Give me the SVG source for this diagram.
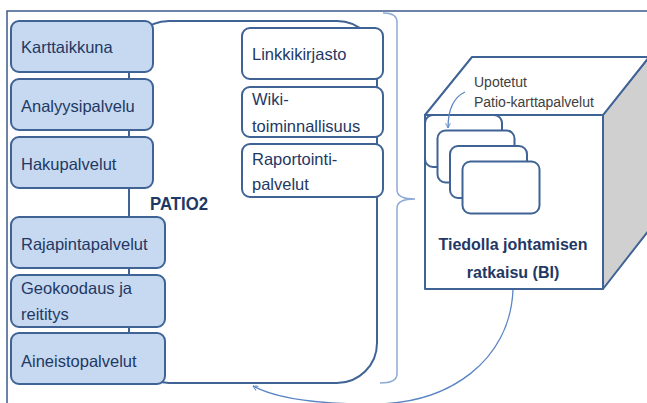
<svg xmlns="http://www.w3.org/2000/svg" width="647" height="403" viewBox="0 0 647 403">
<defs>
<style>
.frame{fill:none;stroke:#3d5a8a;stroke-width:1.5}
.big{fill:#fff;stroke:#3f6395;stroke-width:2}
.lbox{fill:#c6d9f0;stroke:#3f6395;stroke-width:2}
.wbox{fill:#fff;stroke:#3f6395;stroke-width:2}
.t{font-family:"Liberation Sans",Arial,sans-serif;font-size:16.5px;fill:#1f3864}
.b{font-family:"Liberation Sans",Arial,sans-serif;font-weight:bold;fill:#1f3864}
.g{font-family:"Liberation Sans",Arial,sans-serif;font-size:14px;fill:#404040}
.cube{stroke:#3f6395;stroke-width:2;stroke-linejoin:round}
.lc{fill:none;stroke:#8eaad6;stroke-width:1.5}
.ac{fill:none;stroke:#5b86c4;stroke-width:1.3}
</style>
<marker id="ah" viewBox="0 0 10 10" refX="9" refY="5" markerWidth="6" markerHeight="6" orient="auto-start-reverse" markerUnits="userSpaceOnUse">
<path d="M1,1 L9,5 L1,9" fill="none" stroke="#5b86c4" stroke-width="1.5"/>
</marker>
</defs>
<rect width="647" height="403" fill="#fff"/>
<rect class="frame" x="7" y="11" width="700" height="500"/>

<g id="patio2">
<rect class="big" x="129" y="21" width="248" height="362" rx="40"/>
<text class="b" x="150" y="210" font-size="19" textLength="58" lengthAdjust="spacingAndGlyphs">PATIO2</text>
</g>

<g id="karttaikkuna"><rect class="lbox" x="11" y="21" width="142" height="51" rx="8"/><text class="t" x="21" y="53">Karttaikkuna</text></g>
<g id="analyysipalvelu"><rect class="lbox" x="11" y="79" width="142" height="51" rx="8"/><text class="t" x="21" y="112">Analyysipalvelu</text></g>
<g id="hakupalvelut"><rect class="lbox" x="11" y="137" width="142" height="51" rx="8"/><text class="t" x="21" y="170">Hakupalvelut</text></g>
<g id="rajapintapalvelut"><rect class="lbox" x="11" y="217" width="154" height="51" rx="8"/><text class="t" x="21" y="250">Rajapintapalvelut</text></g>
<g id="geokoodaus"><rect class="lbox" x="11" y="275" width="154" height="52" rx="8"/><text class="t" x="21" y="294">Geokoodaus ja</text><text class="t" x="21" y="320">reititys</text></g>
<g id="aineistopalvelut"><rect class="lbox" x="11" y="333" width="154" height="51" rx="8"/><text class="t" x="21" y="367">Aineistopalvelut</text></g>

<g id="linkkikirjasto"><rect class="wbox" x="242" y="28" width="141" height="51" rx="8"/><text class="t" x="252" y="60">Linkkikirjasto</text></g>
<g id="wiki"><rect class="wbox" x="242" y="87" width="141" height="50" rx="8"/><text class="t" x="252" y="105">Wiki-</text><text class="t" x="252" y="132">toiminnallisuus</text></g>
<g id="raportointi"><rect class="wbox" x="242" y="144" width="141" height="53" rx="8"/><text class="t" x="252" y="165">Raportointi-</text><text class="t" x="252" y="190">palvelut</text></g>

<g id="bi">
<polygon class="cube" points="603,115 649,57 649,230 603,289" fill="#d0d0d0"/>
<polygon class="cube" points="425,115 472,57 649,57 603,115" fill="#fff"/>
<rect class="cube" x="425" y="115" width="178" height="174" fill="#fff"/>
<rect class="wbox" x="425" y="115" width="77" height="52" rx="8"/>
<rect class="wbox" x="437.5" y="130.5" width="77" height="52" rx="8"/>
<rect class="wbox" x="450" y="146" width="77" height="52" rx="8"/>
<rect class="wbox" x="462.5" y="161.5" width="77" height="52" rx="8"/>
<text class="g" x="474" y="87">Upotetut</text>
<text class="g" x="474" y="107">Patio-karttapalvelut</text>
<text class="b" x="513" y="250" font-size="16" text-anchor="middle">Tiedolla johtamisen</text>
<text class="b" x="513" y="278" font-size="16" text-anchor="middle">ratkaisu (BI)</text>
</g>

<g id="connectors">
<path class="lc" d="M383,13 Q397,13 397,22 L397,190 Q397,199 415,199 Q397,199 397,208 L397,374 Q397,383 380,383"/>
<path class="ac" d="M465,92 Q448,100 448,128" marker-end="url(#ah)"/>
<path class="ac" d="M513,290 C510,360 450,405 370,404 C310,404 275,398 253,386" marker-end="url(#ah)"/>
</g>
</svg>
